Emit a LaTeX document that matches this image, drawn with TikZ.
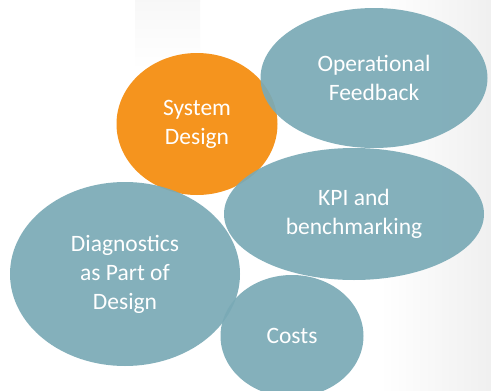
\documentclass[tikz,border=0pt]{standalone}
\usepackage{fontspec}
\setmainfont{Carlito}
\usetikzlibrary{shapes.geometric}
\definecolor{tealc}{HTML}{7AAAB6}
\definecolor{orangec}{HTML}{F5941E}
\tikzset{
  bubble/.style={ellipse, inner sep=0pt, align=center, text=white,
    font=\fontsize{23.5}{29}\selectfont},
  tealbubble/.style={bubble, fill=tealc, fill opacity=0.92, text opacity=1},
  orangebubble/.style={bubble, fill=orangec}
}
\begin{document}
\begin{tikzpicture}[x=1pt,y=-1pt]
\useasboundingbox (0,0) rectangle (491,391);
\fill[white] (0,0) rectangle (491,391);
\shade[left color=white, right color=gray!12] (380,0) rectangle (491,391);
\shade[top color=gray!6, bottom color=white] (135,0) rectangle (200,70);
\begin{scope}
\clip (0,0) rectangle (491,391);
\node[orangebubble, minimum width=161pt, minimum height=142pt] (sys) at (197,124) {System\\Design};
\node[tealbubble, minimum width=227pt, minimum height=140pt] (op) at (374,78) {Operational\\Feedback};
\node[tealbubble, minimum width=260pt, minimum height=132pt] (kpi) at (354,214) {KPI and\\benchmarking};
\node[tealbubble, minimum width=230pt, minimum height=184pt] (diag) at (125,274) {Diagnostics\\as Part of\\Design};
\node[tealbubble, minimum width=143pt, minimum height=122pt] (cost) at (292,336) {Costs};
\end{scope}
\end{tikzpicture}
\end{document}
